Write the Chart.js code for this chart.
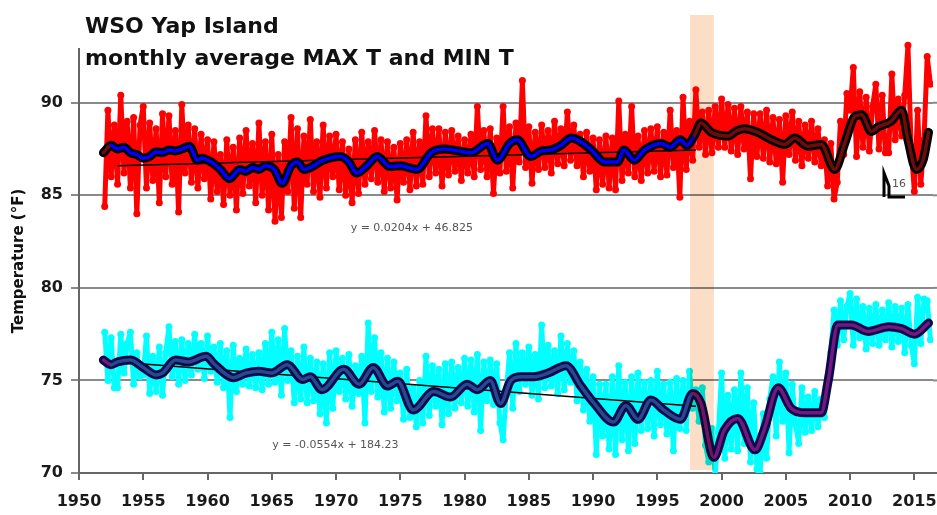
<!DOCTYPE html>
<html>
<head>
<meta charset="utf-8">
<script src="https://cdn.jsdelivr.net/npm/chart.js@4"></script>
<style>
  html, body { margin: 0; padding: 0; background: #fff; }
  #wrap { width: 937px; height: 515px; }
</style>
</head>
<body>
<div id="wrap"><canvas id="yapChart" width="937" height="515"></canvas></div>
<script>
// WSO Yap Island - monthly average MAX T and MIN T
const firstYear = 1952;

// monthly max T, sampled ~quarterly, one row per year
const maxRaw = [
  [84.4, 89.6, 86.0, 88.8], [85.6, 90.4, 86.2, 89.0], [85.4, 89.2, 84.0, 88.8], [89.8, 85.4, 88.9, 85.8],
  [88.6, 84.6, 89.4, 86.0], [89.3, 85.6, 88.5, 84.1], [89.9, 86.2, 88.8, 85.7], [88.6, 85.4, 88.3, 85.9],
  [88.0, 84.8, 87.9, 85.2], [87.2, 84.5, 88.0, 85.0], [87.6, 84.2, 88.1, 85.1], [88.5, 85.5, 87.8, 84.6],
  [88.9, 85.0, 87.9, 84.2], [88.3, 83.6, 87.2, 83.8], [87.9, 85.2, 89.2, 84.3], [88.6, 83.8, 88.2, 85.6],
  [89.1, 85.2, 87.9, 84.9], [88.8, 85.4, 88.2, 86.0], [88.3, 85.3, 87.9, 85.0], [87.5, 84.6, 88.0, 85.1],
  [88.4, 85.6, 87.9, 85.9], [88.5, 85.7, 88.0, 85.2], [87.9, 85.4, 87.6, 84.75], [87.8, 85.7, 88.0, 85.3],
  [88.4, 85.5, 87.9, 85.6], [89.3, 86.0, 88.6, 86.2], [88.6, 85.5, 88.4, 86.1], [88.5, 86.3, 88.2, 85.8],
  [88.0, 86.2, 88.3, 86.0], [89.8, 86.4, 88.5, 86.0], [88.6, 85.1, 88.1, 86.2], [89.8, 86.3, 88.7, 85.4],
  [88.9, 86.8, 91.2, 86.5], [88.7, 85.65, 88.4, 86.4], [88.8, 86.5, 88.5, 86.2], [89.0, 86.7, 88.6, 86.6],
  [89.5, 86.9, 88.8, 86.6], [88.3, 86.0, 88.4, 86.3], [88.1, 85.3, 88.0, 85.6], [88.2, 85.4, 88.1, 85.3],
  [90.1, 85.8, 88.3, 86.2], [89.8, 86.0, 88.2, 85.8], [88.5, 86.2, 88.6, 86.3], [88.7, 86.0, 88.4, 86.1],
  [89.6, 86.5, 88.5, 84.9], [90.3, 86.4, 89.0, 86.9], [90.7, 87.6, 89.5, 87.2], [89.6, 87.3, 89.8, 87.6],
  [90.2, 87.6, 89.9, 87.4], [89.7, 87.2, 89.8, 87.5], [89.5, 85.9, 89.4, 87.1], [89.4, 87.0, 89.6, 86.8],
  [89.2, 86.7, 89.1, 85.7], [89.3, 87.2, 89.5, 86.9], [89.0, 86.6, 88.8, 87.0], [89.0, 86.8, 88.6, 86.6],
  [88.0, 85.5, 87.8, 84.8], [85.7, 89.0, 87.2, 90.5], [89.6, 91.9, 87.1, 90.6], [87.6, 90.3, 87.4, 89.8],
  [91.0, 87.5, 90.4, 87.3], [87.3, 91.55, 88.0, 90.2], [88.2, 90.4, 93.1, 87.6], [85.2, 89.6, 85.6, 88.0],
  [92.5, 91.0]
];

// monthly min T, same sampling
const minRaw = [
  [77.6, 75.0, 77.3, 74.6], [74.6, 77.5, 75.4, 77.0], [77.6, 74.8, 76.5, 75.2], [75.3, 77.4, 74.3, 76.3],
  [74.4, 76.8, 74.2, 76.5], [77.9, 75.2, 77.1, 74.8], [77.2, 75.0, 77.0, 75.3], [77.5, 75.6, 77.0, 75.1],
  [77.4, 75.5, 76.8, 74.9], [77.0, 74.6, 76.6, 73.0], [76.9, 74.4, 76.2, 74.8], [76.7, 74.7, 76.4, 74.6],
  [76.5, 74.5, 77.0, 74.8], [77.6, 74.9, 77.2, 74.2], [77.8, 75.0, 76.6, 73.8], [76.3, 74.0, 76.8, 73.8],
  [76.2, 73.9, 76.0, 73.2], [75.9, 72.7, 76.5, 73.5], [76.6, 74.4, 76.2, 74.0], [76.4, 73.6, 75.8, 74.3],
  [76.3, 72.7, 78.1, 74.4], [77.3, 74.1, 76.5, 73.3], [76.2, 73.5, 76.0, 73.9], [75.4, 72.9, 75.6, 73.0],
  [74.6, 72.5, 75.0, 72.7], [76.3, 73.1, 75.8, 73.6], [75.6, 72.6, 75.9, 73.2], [76.0, 73.5, 75.7, 73.8],
  [76.2, 73.6, 76.1, 73.3], [76.4, 72.3, 76.0, 73.9], [76.1, 73.7, 75.9, 72.7], [71.8, 74.4, 76.5, 73.5],
  [77.0, 74.4, 76.5, 74.8], [76.8, 74.2, 76.4, 74.0], [78.0, 74.6, 76.9, 74.7], [76.6, 74.3, 77.4, 74.5],
  [77.0, 74.9, 76.6, 73.9], [76.0, 73.4, 75.6, 72.8], [75.2, 71.0, 74.8, 72.0], [74.8, 71.3, 75.2, 71.0],
  [75.8, 71.8, 74.9, 71.2], [75.2, 71.6, 75.4, 72.3], [74.9, 72.4, 75.0, 72.0], [75.5, 72.6, 74.8, 72.1],
  [74.9, 71.2, 75.1, 72.4], [75.0, 72.3, 75.5, 73.5], [74.5, 72.8, 74.6, 71.5], [70.6, 72.4, 69.9, 72.2],
  [75.4, 70.8, 74.2, 71.3], [74.5, 71.2, 75.4, 71.6], [74.6, 70.6, 73.8, 70.2], [70.0, 73.2, 70.8, 74.0],
  [75.2, 72.0, 76.0, 72.8], [75.4, 71.1, 74.8, 72.6], [71.6, 74.6, 72.2, 74.1], [72.3, 74.4, 72.5, 74.0],
  [73.0, 75.2, 76.5, 78.8], [76.9, 79.3, 77.2, 79.0], [79.7, 76.9, 79.4, 77.3], [79.0, 76.7, 78.9, 77.0],
  [79.1, 76.9, 78.8, 77.2], [79.2, 76.8, 79.0, 77.1], [78.9, 76.5, 79.1, 76.9], [75.9, 79.5, 77.0, 79.4],
  [79.3, 77.2]
];

// running means [year, value]
const maxSmooth = [
  [1951.9, 87.3], [1952.5, 87.7], [1953, 87.5], [1953.5, 87.6], [1954, 87.3], [1954.5, 87.2], [1955, 87.0],
  [1955.5, 87.1], [1956, 87.35], [1956.5, 87.3], [1957, 87.45], [1957.5, 87.4], [1958, 87.5], [1958.6, 87.65],
  [1959.2, 86.9], [1959.6, 87.0], [1960, 86.9], [1960.5, 86.7], [1961, 86.4], [1961.7, 85.9], [1962.5, 86.4],
  [1963, 86.3], [1963.5, 86.5], [1964, 86.4], [1964.5, 86.6], [1965.2, 86.4], [1965.8, 85.65], [1966.5, 86.6],
  [1967, 86.8], [1967.5, 86.4], [1968, 86.5], [1969, 86.9], [1970.35, 87.1], [1971, 86.8], [1971.6, 86.2],
  [1972.4, 86.6], [1973.2, 87.1], [1974.2, 86.55], [1975, 86.6], [1976.3, 86.4], [1977.4, 87.3], [1978.4, 87.5],
  [1979.5, 87.4], [1980.5, 87.3], [1981.8, 87.8], [1982.55, 86.9], [1983.5, 87.8], [1984.1, 88.0], [1985.15, 87.1],
  [1986, 87.4], [1986.7, 87.45], [1987.5, 87.7], [1988.3, 88.1], [1989.8, 87.5], [1990.9, 86.8], [1991.9, 86.8],
  [1992.4, 87.45], [1993.2, 86.9], [1994, 87.45], [1995.3, 87.8], [1996, 87.6], [1996.8, 88.0], [1997.3, 87.7],
  [1997.9, 88.25], [1998.4, 88.9], [1999.2, 88.4], [2000.5, 88.2], [2001.2, 88.5], [2001.8, 88.6], [2002.8, 88.4],
  [2003.9, 88.0], [2004.9, 87.75], [2005.7, 88.1], [2006.7, 87.65], [2007.75, 87.75], [2008.8, 86.4], [2009.6, 87.85],
  [2010.35, 89.25], [2010.9, 89.35], [2011.65, 88.45], [2012.2, 88.7], [2013.2, 89.0], [2014, 89.6], [2014.5, 88.0],
  [2015.15, 86.4], [2015.7, 86.95], [2016.1, 88.4]
];
const minSmooth = [
  [1951.9, 76.1], [1952.5, 75.85], [1953, 76.0], [1954, 76.1], [1955, 75.7], [1956, 75.3], [1956.5, 75.4],
  [1957.5, 76.1], [1958.5, 76.0], [1959.9, 76.3], [1960.5, 75.9], [1961.5, 75.3], [1962, 75.15], [1963, 75.4],
  [1964, 75.5], [1965, 75.4], [1966.2, 75.85], [1967.4, 75.05], [1968, 75.2], [1968.9, 74.5], [1970.6, 75.6],
  [1971.8, 74.8], [1972.9, 75.7], [1974, 74.7], [1974.8, 74.95], [1976, 73.4], [1977.6, 74.4], [1978.9, 74.1],
  [1980.2, 74.8], [1981, 74.5], [1982, 75.0], [1982.8, 73.75], [1983.6, 75.0], [1984.4, 75.2], [1985.4, 75.2],
  [1986.5, 75.4], [1987.9, 75.8], [1989.05, 74.7], [1990.1, 73.75], [1991.6, 72.75], [1992.55, 73.65], [1993.5, 72.9],
  [1994.5, 73.95], [1995.5, 73.4], [1996.8, 72.9], [1997.75, 74.3], [1998.4, 73.75], [1999.4, 70.85], [2000.2, 72.3],
  [2001.25, 72.95], [2002.6, 71.25], [2003.3, 72.3], [2004.4, 74.6], [2005.4, 73.5], [2006.5, 73.25], [2007.75, 73.25],
  [2008.3, 75.0], [2009.05, 78.0], [2010.1, 78.0], [2011.4, 77.65], [2013, 77.9], [2014, 77.8], [2015, 77.5],
  [2016.1, 78.1]
];

// linear trends 1953-1998 (end points as drawn)
const maxTrend = [[1953, 86.6], [1998, 87.45]];
const minTrend = [[1953, 76.0], [1998, 73.6]];
const maxTrendLabel = 'y = 0.0204x + 46.825';
const minTrendLabel = 'y = -0.0554x + 184.23';

const bandYears = [1997.55, 1999.4];   // shaded period
const yTicks = [70, 75, 80, 85, 90];
const xTicks = [1950, 1955, 1960, 1965, 1970, 1975, 1980, 1985, 1990, 1995, 2000, 2005, 2010, 2015];

function rawPoints(rows) {
  const pts = [];
  rows.forEach((row, i) => row.forEach((v, k) => pts.push({ x: firstYear + i + k / 4, y: v })));
  return pts;
}
const pairPoints = rows => rows.map(([x, y]) => ({ x, y }));

const afterSwitch = (ctx, cut) => ctx.p0.parsed.x < 1952.4 || ctx.p0.parsed.x >= cut;

const overlay = {
  id: 'overlay',
  afterDatasetsDraw(chart) {
    const { ctx, chartArea, scales: { x } } = chart;
    const x0 = x.getPixelForValue(bandYears[0]);
    const x1 = x.getPixelForValue(bandYears[1]);
    ctx.save();
    ctx.globalCompositeOperation = 'multiply';
    ctx.fillStyle = 'rgb(252,221,198)';
    ctx.fillRect(x0, chartArea.top, x1 - x0, chartArea.bottom - 3 - chartArea.top);
    ctx.restore();
  },
  afterDraw(chart) {
    const { ctx, chartArea, scales: { x, y } } = chart;
    ctx.save();
    // gridlines run to the right edge of the picture
    ctx.strokeStyle = '#8a8a8a';
    ctx.lineWidth = 2;
    yTicks.slice(1).forEach(v => {
      const py = y.getPixelForValue(v);
      ctx.beginPath(); ctx.moveTo(chartArea.right, py); ctx.lineTo(chart.width, py); ctx.stroke();
    });
    ctx.strokeStyle = '#666';
    ctx.beginPath(); ctx.moveTo(chartArea.right, chartArea.bottom); ctx.lineTo(chart.width, chartArea.bottom); ctx.stroke();

    // title block
    ctx.fillStyle = '#fff';
    ctx.fillRect(68, 0, 470, 48);
    ctx.fillStyle = '#111';
    ctx.font = 'bold 22px "DejaVu Sans"';
    ctx.textBaseline = 'alphabetic';
    ctx.fillText('WSO Yap Island', 85, 33);
    ctx.fillText('monthly average MAX T and MIN T', 85, 65);

    // trend equations
    ctx.fillStyle = '#555';
    ctx.font = '11px "DejaVu Sans"';
    ctx.textAlign = 'center';
    ctx.textBaseline = 'middle';
    ctx.fillText(maxTrendLabel, x.getPixelForValue(1975.9), y.getPixelForValue(83.2));
    ctx.fillText(minTrendLabel, x.getPixelForValue(1969.95), y.getPixelForValue(71.5));

    // y axis title
    ctx.save();
    ctx.translate(19, 261);
    ctx.rotate(-Math.PI / 2);
    ctx.fillStyle = '#111';
    ctx.font = 'bold 15px "DejaVu Sans"';
    ctx.fillText('Temperature (°F)', 0, 0);
    ctx.restore();

    // stray marker + "16"
    ctx.strokeStyle = '#000';
    ctx.lineWidth = 3;
    ctx.beginPath();
    ctx.moveTo(884, 197); ctx.lineTo(884, 173);
    ctx.lineTo(889, 186); ctx.lineTo(889, 197); ctx.lineTo(905, 197);
    ctx.stroke();
    ctx.fillStyle = '#555';
    ctx.font = '11px "DejaVu Sans"';
    ctx.textAlign = 'left';
    ctx.fillText('16', 892, 184);
    ctx.restore();
  }
};

const rawStyle = { borderWidth: 5, pointRadius: 3.5, pointBorderWidth: 0, tension: 0,
                   borderJoinStyle: 'round', borderCapStyle: 'round', order: 10 };
const meanStyle = { pointRadius: 0, cubicInterpolationMode: 'monotone',
                    borderJoinStyle: 'round', borderCapStyle: 'round' };

new Chart(document.getElementById('yapChart').getContext('2d'), {
  type: 'line',
  data: {
    datasets: [
      { label: 'MAX T', data: rawPoints(maxRaw), ...rawStyle, borderColor: '#ff0000', backgroundColor: '#ff0000' },
      { label: 'MIN T', data: rawPoints(minRaw), ...rawStyle, borderColor: '#00ffff', backgroundColor: '#00ffff' },
      { label: 'MAX trend', data: pairPoints(maxTrend), order: 8, borderColor: '#000', borderWidth: 1.5, pointRadius: 0 },
      { label: 'MIN trend', data: pairPoints(minTrend), order: 8, borderColor: '#000', borderWidth: 1.5, pointRadius: 0 },
      { label: 'MAX mean outline', data: pairPoints(maxSmooth), ...meanStyle, order: 6, borderColor: '#000', borderWidth: 9 },
      { label: 'MIN mean outline', data: pairPoints(minSmooth), ...meanStyle, order: 6, borderColor: '#0a0a4a', borderWidth: 9 },
      {
        label: 'MAX mean', data: pairPoints(maxSmooth), ...meanStyle, order: 4,
        borderColor: '#0000ff', borderWidth: 3.5,
        segment: { borderColor: c => afterSwitch(c, 1997.9) ? '#6e0c0c' : '#0000ff' }
      },
      {
        label: 'MIN mean', data: pairPoints(minSmooth), ...meanStyle, order: 4,
        borderColor: '#2a4690', borderWidth: 3.5,
        segment: { borderColor: c => afterSwitch(c, 1997.75) ? '#72187e' : '#2a4690' }
      }
    ]
  },
  options: {
    responsive: false,
    animation: false,
    events: [],
    layout: { padding: { top: 15, right: 0, bottom: 0, left: 0 } },
    plugins: { legend: { display: false }, tooltip: { enabled: false } },
    scales: {
      x: {
        type: 'linear', min: 1950, max: 2016.45,
        afterFit: s => { s.height = 42; s.paddingLeft = 0; s.paddingRight = 0; },
        afterBuildTicks: s => { s.ticks = xTicks.map(v => ({ value: v })); },
        ticks: { callback: v => String(v), color: '#1a1a1a', padding: 12, maxRotation: 0,
                 font: { family: 'DejaVu Sans', size: 16, weight: 'bold' } },
        grid: { drawOnChartArea: false, drawTicks: true, tickLength: 7, color: '#666', lineWidth: 2 },
        border: { color: '#666', width: 2 }
      },
      y: {
        type: 'linear', min: 70, max: 94.74,
        afterFit: s => { s.width = 79; s.paddingTop = 0; s.paddingBottom = 0; },
        afterBuildTicks: s => { s.ticks = yTicks.map(v => ({ value: v })); },
        ticks: { color: '#1a1a1a', padding: 8,
                 font: { family: 'DejaVu Sans', size: 16, weight: 'bold' } },
        grid: { color: '#8a8a8a', lineWidth: 2, tickLength: 8 },
        border: { color: '#666', width: 2 }
      }
    }
  },
  plugins: [overlay]
});
</script>
</body>
</html>
